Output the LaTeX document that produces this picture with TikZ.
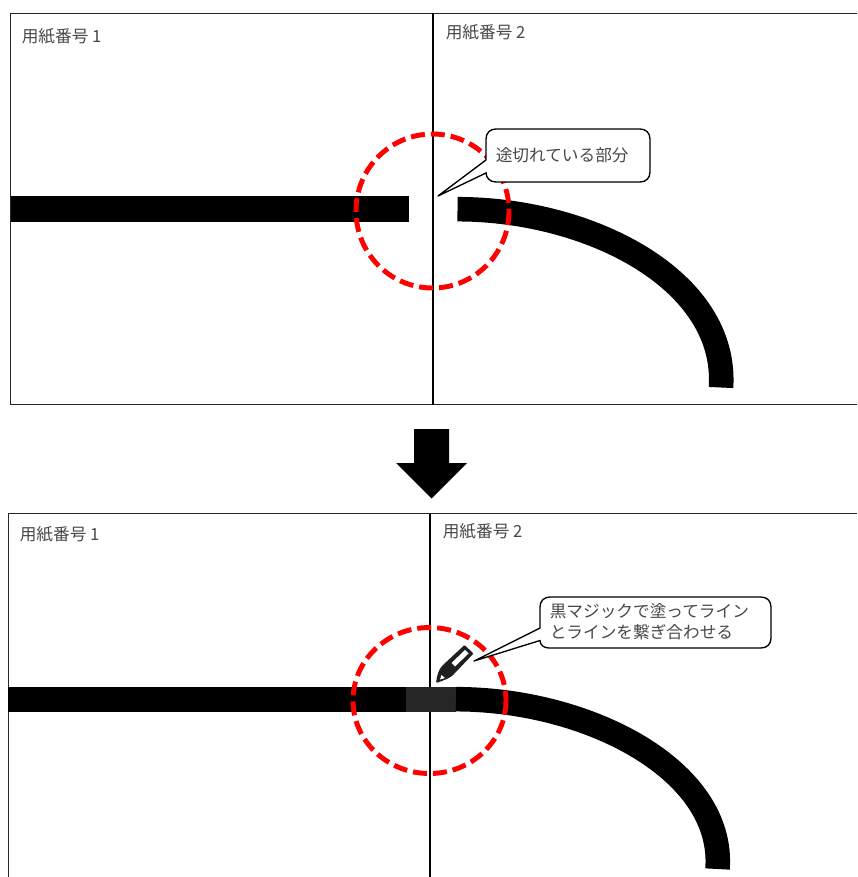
\documentclass[tikz,border=0pt]{standalone}
\usepackage{fontspec}
\setmainfont{Noto Sans CJK JP}
\definecolor{txt}{HTML}{484848}
\tikzset{
  lbl/.style={inner sep=0pt,anchor=west,text=txt,font=\fontsize{12.5}{15.75}\selectfont,align=left},
  frame/.style={draw=black!85,line width=0.75pt},
  divider/.style={draw=black,line width=0.95pt},
  band/.style={draw=none,fill=black},
  inkline/.style={line width=18.4pt,draw=black,line cap=butt},
  ring/.style={draw=red,line width=3.7pt,dash pattern=on 10.5pt off 4.5pt},
  bubble/.style={draw=black,fill=white,line width=1pt,line join=round},
  bigarrow/.style={fill=black,draw=none}
}
\begin{document}
\begin{tikzpicture}[x=0.75pt,y=-0.75pt]
\useasboundingbox (0,0) rectangle (857,877);
\fill[white] (0,0) rectangle (857,877);
% --- top panel
\draw[frame] (857,13.5) -- (10.5,13.5) -- (10.5,404.5) -- (857,404.5);
\draw[divider] (433,13.5) -- (433,404.5);
\fill[band] (10.5,196.5) rectangle (408.5,222);
\draw[inkline] (457.5,209.2) .. controls (590,209.2) and (728,280) .. (721,387.5);
\node[lbl] (p1a) at (21.5,36) {用紙番号 1};
\node[lbl] (p2a) at (445.5,32.5) {用紙番号 2};
\draw[ring] (432.5,211) ellipse [x radius=76.5,y radius=77];
\draw[bubble] (438,196) -- (486,173) -- (486,172.5) .. controls (486,178) and (490,182) .. (496,182)
  -- (640,182) .. controls (646,182) and (650,178) .. (650,172)
  -- (650,139) .. controls (650,133) and (646,129) .. (640,129)
  -- (496,129) .. controls (490,129) and (486,133) .. (486,139) -- (486,160) -- cycle;
\node[lbl] (c1) at (495.5,155.5) {途切れている部分};
% --- arrow
\fill[bigarrow] (414,429) -- (449,429) -- (449,463) -- (467,463) -- (431.5,498.5) -- (396,463) -- (414,463) -- cycle;
% --- bottom panel
\draw[frame] (857,513.5) -- (8.5,513.5) -- (8.5,877);
\draw[divider] (430,513.5) -- (430,877);
\fill[band] (8,687) rectangle (406,711.5);
\fill[fill=black!85!white] (406,687) rectangle (456,711.5);
\draw[inkline] (456,699.2) .. controls (588,699.2) and (725,770) .. (717.5,869);
\node[lbl] (p1b) at (19.5,534) {用紙番号 1};
\node[lbl] (p2b) at (442.5,531) {用紙番号 2};
\draw[ring] (429.5,700.5) ellipse [x radius=76.5,y radius=73];
\draw[bubble] (474,661) -- (540,640.5) .. controls (540,645) and (544,648) .. (549,648)
  -- (761,648) .. controls (767,648) and (771,644) .. (771,638)
  -- (771,607) .. controls (771,601) and (767,597) .. (761,597)
  -- (550,597) .. controls (544,597) and (540,601) .. (540,607) -- (540,628) -- cycle;
\node[lbl,anchor=north west] (c2) at (549.5,603) {黒マジックで塗ってライン\\とラインを繋ぎ合わせる};
% --- pen
\fill[black!88!white,rounded corners=0.8pt] (464.5,645) -- (473.5,653.5) -- (454,674) .. controls (450,678) and (445,680) .. (436,683)
  .. controls (437,675) and (439,669) .. (443,665) -- cycle;
\fill[white] (465,650) -- (468.5,653.5) -- (455,666.5) -- (451.5,663) -- cycle;
\fill[white] (440,679.5) -- (441.5,675) -- (445,678) -- cycle;
\end{tikzpicture}
\end{document}
